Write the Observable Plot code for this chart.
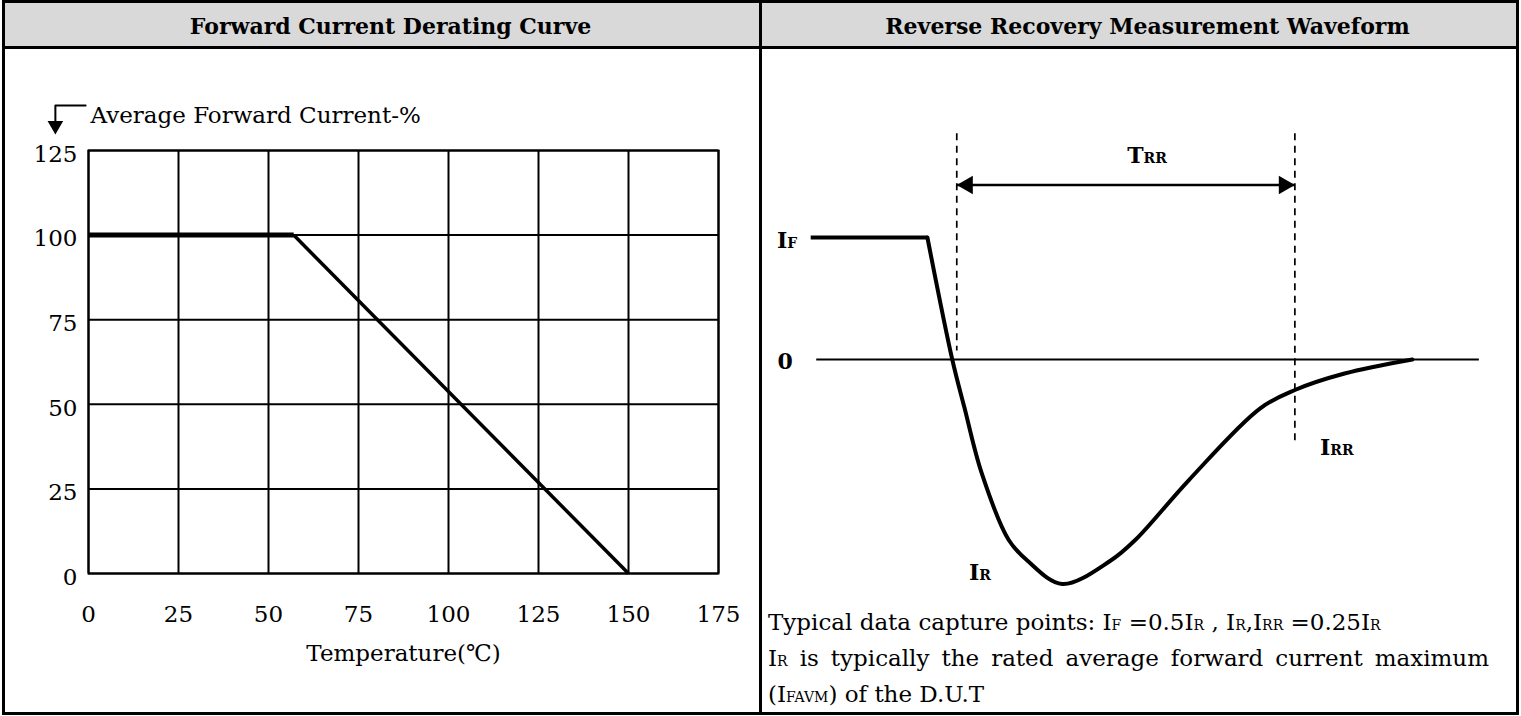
<!DOCTYPE html>
<html><head><meta charset="utf-8">
<script src="https://cdn.jsdelivr.net/npm/d3@7"></script>
<script src="https://cdn.jsdelivr.net/npm/@observablehq/plot@0.6"></script>
<style>
html,body{margin:0;padding:0;background:#fff;}
#root{position:relative;width:1521px;height:716px;overflow:hidden;font-family:"DejaVu Serif",serif;color:#000;background:#fff;}
.box{position:absolute;box-sizing:border-box;}
.hdr{position:absolute;top:3px;height:43px;background:#d9d9d9;display:flex;align-items:center;justify-content:center;font-weight:bold;font-size:22px;box-sizing:border-box;padding-left:17px;padding-top:3px;}
.ln{position:absolute;background:#000;}
.cap{position:absolute;left:768px;width:721px;font-size:23px;line-height:34px;white-space:nowrap;}
.cap small{font-size:14px;line-height:1;}
.just{text-align:justify;text-align-last:justify;}
#left,#right{position:absolute;}
</style></head><body>
<div id="root">
  <div class="hdr" style="left:5px;width:754px;">Forward Current Derating Curve</div>
  <div class="hdr" style="left:762px;width:754px;">Reverse Recovery Measurement Waveform</div>
  <div id="left" style="left:0px;top:50px;"></div>
  <div id="right" style="left:762px;top:54px;"></div>
  <div class="cap" style="top:605px;">Typical data capture points: I<small>F</small> =0.5I<small>R</small> , I<small>R</small>,I<small>RR</small> =0.25I<small>R</small></div>
  <div class="cap just" style="top:641px;">I<small>R</small> is typically the rated average forward current maximum</div>
  <div class="cap" style="top:677px;">(I<small>FAVM</small>) of the D.U.T</div>
  <div class="box" style="left:2px;top:0;width:1517px;height:715px;border:3px solid #000;"></div>
  <div class="ln" style="left:759px;top:0;width:3px;height:715px;"></div>
  <div class="ln" style="left:2px;top:46px;width:1517px;height:3px;"></div>
</div>
<script>
// ---------- Left chart data: Forward Current Derating Curve ----------
const tempTicks = [0, 25, 50, 75, 100, 125, 150, 175];
const pctTicks = [0, 25, 50, 75, 100, 125];
const deratingTemp = [0, 57, 150];
const deratingPct = [100, 100, 0];
const xLabel = "Temperature(℃)";
const yLabel = "Average Forward Current-%";
// little bent arrow in front of the y label (data units of left chart)
const yArrowX = [-9.2, -0.8];
const yArrowY = [138.3, 133.6];
const yArrowTip = 132.4;

// ---------- Right chart data: Reverse Recovery Measurement Waveform ----------
const ifTime = [6.4, 21.9];
const ifLevel = [1, 1];
const waveTime = [21.9, 25.2, 26.8, 29.1, 32.7, 35.2, 39.8, 46.2, 49.5, 56.6, 66.1, 70.7, 77.3, 86.3];
const waveCurrent = [1, 0, -0.39, -0.93, -1.48, -1.65, -1.84, -1.65, -1.48, -0.99, -0.40, -0.25, -0.115, 0];
const zeroSpan = [7.2, 95.2];
const trrMarkers = [25.8, 70.7];
const trrMarkerTop = 1.85;
const trrMarkerBottom = [0.07, -0.70];
const trrArrowLevel = 1.43;
const labelMain = ["I", "T", "I", "I"];
const labelSub = ["F", "RR", "RR", "R"];
const labelTime = [3.3, 50.6, 75.4, 28.8];
const labelLevel = [0.918, 1.607, -0.779, -1.81];
const zeroLabel = {t: 3.0, v: -0.02, text: "0"};

const FONT = '"DejaVu Serif", serif';

// ---------- Left chart ----------
const der = deratingTemp.map((t, i) => ({t, p: deratingPct[i]}));
const left = Plot.plot({
  width: 758, height: 630,
  marginLeft: 88, marginRight: 40, marginTop: 100, marginBottom: 107,
  style: {fontFamily: FONT, fontSize: "23px", color: "#000", background: "transparent", overflow: "visible"},
  x: {domain: [0, 175], label: null},
  y: {domain: [0, 125], label: null},
  marks: [
    Plot.gridX(tempTicks, {stroke: "#000", strokeOpacity: 1, strokeWidth: 2}),
    Plot.gridY(pctTicks, {stroke: "#000", strokeOpacity: 1, strokeWidth: 2}),
    Plot.frame({stroke: "#000", strokeWidth: 2}),
    Plot.axisX(tempTicks, {tickSize: 0, tickPadding: 32, fontSize: 23, label: null}),
    Plot.axisY(pctTicks, {tickSize: 0, tickPadding: 11, dy: 4, fontSize: 23, label: null}),
    Plot.line(der.slice(0, 2), {x: "t", y: "p", stroke: "#000", strokeWidth: 5, strokeLinecap: "butt"}),
    Plot.line(der.slice(1), {x: "t", y: "p", stroke: "#000", strokeWidth: 3.5, strokeLinecap: "butt"}),
    Plot.text([xLabel], {text: d => d, frameAnchor: "bottom", lineAnchor: "middle", dy: 80, fontSize: 23}),
    Plot.text([yLabel], {text: d => d, frameAnchor: "top-left", textAnchor: "start", lineAnchor: "bottom", dx: 2, dy: -28, fontSize: 23}),
    Plot.line([[yArrowX[1], yArrowY[0]], [yArrowX[0], yArrowY[0]], [yArrowX[0], yArrowY[1]]], {stroke: "#000", strokeWidth: 2}),
    Plot.dot([[yArrowX[0], yArrowTip]], {symbol: "triangle", r: 5.8, rotate: 180, fill: "#000", stroke: null})
  ]
});
document.getElementById("left").append(left);

// ---------- Right chart ----------
const ifLine = ifTime.map((t, i) => ({t, v: ifLevel[i]}));
const wave = waveTime.map((t, i) => ({t, v: waveCurrent[i]}));
const labels = labelMain.map((m, i) => ({m, s: labelSub[i], t: labelTime[i], v: labelLevel[i]}));
const markers = trrMarkers.map((t, i) => ({t, y1: trrMarkerTop, y2: trrMarkerBottom[i]}));
const right = Plot.plot({
  width: 753, height: 549,
  marginLeft: 0, marginRight: 0, marginTop: 0, marginBottom: 0,
  style: {fontFamily: FONT, fontSize: "22px", color: "#000", background: "transparent", overflow: "visible"},
  x: {domain: [0, 100], axis: null},
  y: {domain: [-2, 2.5], axis: null},
  marks: [
    Plot.ruleY([0], {x1: zeroSpan[0], x2: zeroSpan[1], stroke: "#000", strokeWidth: 2}),
    Plot.ruleX(markers, {x: "t", y1: "y1", y2: "y2", stroke: "#000", strokeWidth: 1.7, strokeDasharray: "7,5.5"}),
    Plot.ruleY([trrArrowLevel], {x1: trrMarkers[0], x2: trrMarkers[1], stroke: "#000", strokeWidth: 2.5}),
    Plot.dot([trrMarkers[0]], {x: d => d, y: () => trrArrowLevel, symbol: "triangle", r: 6.9, rotate: -90, dx: 10.7, fill: "#000", stroke: null}),
    Plot.dot([trrMarkers[1]], {x: d => d, y: () => trrArrowLevel, symbol: "triangle", r: 6.9, rotate: 90, dx: -10.7, fill: "#000", stroke: null}),
    Plot.line(ifLine, {x: "t", y: "v", stroke: "#000", strokeWidth: 4, strokeLinecap: "butt"}),
    Plot.line(wave, {x: "t", y: "v", curve: "catmull-rom", stroke: "#000", strokeWidth: 4}),
    Plot.text(labels, {x: "t", y: "v", text: "m", textAnchor: "end", lineAnchor: "bottom", fontWeight: "bold", fontSize: 22}),
    Plot.text(labels, {x: "t", y: "v", text: "s", textAnchor: "start", lineAnchor: "bottom", fontWeight: "bold", fontSize: 14}),
    Plot.text([zeroLabel], {x: "t", y: "v", text: "text", lineAnchor: "middle", fontWeight: "bold", fontSize: 22})
  ]
});
document.getElementById("right").append(right);
</script>
</body></html>
